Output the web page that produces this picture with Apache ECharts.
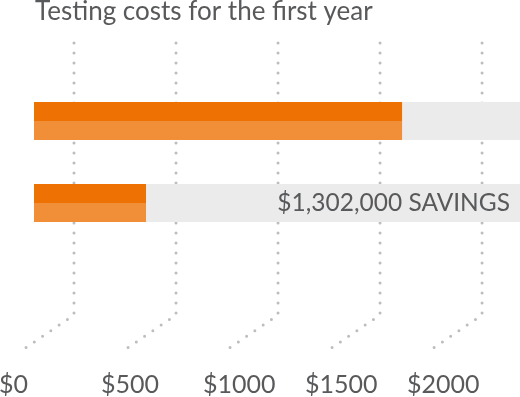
<!DOCTYPE html>
<html><head><meta charset="utf-8">
<script src="https://cdn.jsdelivr.net/npm/echarts@6/dist/echarts.min.js"></script>
<style>html,body{margin:0;padding:0;background:#fff}#c{width:520px;height:397px}</style>
</head><body><div id="c"></div>
<script>
const titleText = 'Testing costs for the first year';
const categories = ['Current', 'New'];
const costValues = [1804, 549];
const tickValues = [0, 500, 1000, 1500, 2000];
const tickLabels = ['$0', '$500', '$1000', '$1500', '$2000'];
const savingsLabel = '$1,302,000 SAVINGS';
const axisMax = 2382;

const textColor = '#58595b';
const font = 'Lato';

const chart = echarts.init(document.getElementById('c'));
chart.setOption({
  animation: false,
  title: {
    text: titleText, left: 30, top: -6,
    textStyle: { fontFamily: font, fontSize: 26, fontWeight: 'normal', color: textColor }
  },
  grid: { left: 34, right: 0, top: 80, height: 164 },
  xAxis: { type: 'value', min: 0, max: axisMax, show: false },
  yAxis: { type: 'category', data: categories, inverse: true, show: false },
  series: [
    {
      type: 'custom', coordinateSystem: 'cartesian2d', clip: false, silent: true, z: 1,
      data: tickValues.map((v, i) => [v, 0, i]),
      renderItem: function (params, api) {
        const x0 = api.coord([api.value(0), 0])[0];
        const idx = api.value(2);
        return {
          type: 'group',
          children: [
            {
              type: 'polyline',
              shape: { points: [[x0 + 40, 43], [x0 + 40, 315], [x0 - 10, 349]] },
              style: { stroke: '#bdbdbd', lineWidth: 3, lineDash: [0, 10], lineCap: 'round', fill: null }
            },
            {
              type: 'text',
              x: x0 - 35, y: 385,
              style: { text: tickLabels[idx], fill: textColor, font: '25px ' + font, textAlign: 'left', textVerticalAlign: 'middle' }
            }
          ]
        };
      }
    },
    {
      type: 'bar', data: costValues, barWidth: 19, barGap: '0%', z: 2,
      itemStyle: { color: '#ee7203' },
      showBackground: true, backgroundStyle: { color: '#ebebeb' }
    },
    {
      type: 'bar', data: costValues, barWidth: 19, barGap: '0%', z: 2,
      itemStyle: { color: '#f18e38' },
      showBackground: true, backgroundStyle: { color: '#ebebeb' }
    },
    {
      type: 'custom', coordinateSystem: 'cartesian2d', clip: false, silent: true, z: 3,
      data: [[axisMax, 1]],
      renderItem: function (params, api) {
        const p = api.coord([api.value(0), api.value(1)]);
        return {
          type: 'text', x: p[0] - 10, y: p[1],
          style: { text: savingsLabel, fill: textColor, font: '24.5px ' + font, textAlign: 'right', textVerticalAlign: 'middle' }
        };
      }
    }
  ]
});
</script>
</body></html>
